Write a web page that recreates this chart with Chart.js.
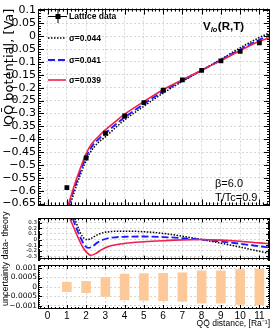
<!DOCTYPE html>
<html><head><meta charset="utf-8">
<script src="https://cdn.jsdelivr.net/npm/chart.js@4/dist/chart.umd.min.js"></script>
<style>
html,body{margin:0;padding:0;background:#fff;width:276px;height:329px;overflow:hidden}
#wrap{position:relative;width:276px;height:329px}
canvas{position:absolute;left:0}
</style></head>
<body><div id="wrap">
<canvas id="c1" width="276" height="214" style="top:0"></canvas>
<canvas id="c2" width="276" height="50" style="top:214px"></canvas>
<canvas id="c3" width="276" height="129" style="top:200px"></canvas>
</div>
<script>
// ---------------- data ----------------
const rLattice = [1, 2, 3, 4, 5, 6, 7, 8, 9, 10, 11];
const vLattice = [-0.588, -0.473, -0.377, -0.310, -0.258, -0.210, -0.170, -0.133, -0.096, -0.059, -0.026];
const uncertainty = [0.00025, 0.0003, 0.0005, 0.00068, 0.0007, 0.00072, 0.00075, 0.00085, 0.00085, 0.00092, 0.00095];

const seriesLabels = ['Lattice data', '\u03c3=0.044', '\u03c3=0.041', '\u03c3=0.039'];

const rBlack = [1.15, 1.3, 1.5, 1.7, 1.9, 2.0, 2.2, 2.4, 2.7, 3, 3.5, 4, 5, 6, 7, 8, 9, 10, 11, 11.55];
const vBlack = [-0.657, -0.625, -0.58, -0.538, -0.5, -0.482, -0.453, -0.432, -0.408, -0.391, -0.357, -0.325, -0.272, -0.221, -0.176, -0.133, -0.0895, -0.0455, -0.005, 0.014];
const rBlue = [1.1, 1.3, 1.5, 1.7, 1.9, 2.0, 2.2, 2.4, 2.7, 3, 3.5, 4, 5, 6, 7, 8, 9, 10, 11, 11.55];
const vBlue = [-0.657, -0.61, -0.566, -0.525, -0.487, -0.469, -0.44, -0.418, -0.396, -0.377, -0.345, -0.315, -0.2635, -0.2145, -0.1725, -0.133, -0.0925, -0.0515, -0.014, 0.004];
const rRed = [1.07, 1.3, 1.5, 1.7, 1.9, 2.0, 2.2, 2.4, 2.7, 3, 3.5, 4, 5, 6, 7, 8, 9, 10, 11, 11.55];
const vRed = [-0.657, -0.6, -0.555, -0.513, -0.474, -0.456, -0.428, -0.408, -0.385, -0.364, -0.333, -0.303, -0.254, -0.208, -0.1695, -0.132, -0.095, -0.056, -0.02, -0.005];

const rBlackDiff = [1.4, 1.6, 1.8, 2.0, 2.2, 2.5, 2.8, 3.2, 4, 5, 6, 7, 8, 9, 10, 11, 11.55];
const dBlack = [0.38, 0.2, 0.06, 0.0, 0.01, 0.07, 0.115, 0.14, 0.15, 0.14, 0.11, 0.06, 0.0, -0.065, -0.135, -0.21, -0.25];
const rBlueDiff = [1.3, 1.5, 1.7, 1.9, 2.1, 2.3, 2.6, 3.0, 3.5, 4, 5, 6, 7, 8, 9, 10, 11, 11.55];
const dBlue = [0.38, 0.2, 0.04, -0.09, -0.15, -0.13, -0.05, 0.01, 0.04, 0.05, 0.055, 0.045, 0.025, 0.0, -0.035, -0.075, -0.12, -0.145];
const rRedDiff = [1.15, 1.4, 1.6, 1.8, 2.0, 2.25, 2.5, 2.8, 3.2, 4, 5, 6, 7, 8, 9, 10, 11, 11.55];
const dRed = [0.38, 0.18, 0.02, -0.12, -0.22, -0.28, -0.25, -0.18, -0.12, -0.07, -0.04, -0.02, -0.005, 0.0, -0.01, -0.03, -0.06, -0.075];

// ---------------- styling ----------------
const FAM = "'Liberation Sans', Arial, sans-serif";
const DEJ = "'DejaVu Sans', sans-serif";
const C_BLACK = '#000000', C_BLUE = '#1a1aff', C_RED = '#f0204a', C_BAR = '#fec998';
const GRID = '#d6d6d6';
const X_MIN = -0.5, X_MAX = 11.55;

Chart.defaults.font.family = FAM;
Chart.defaults.color = '#000';
Chart.defaults.animation = false;
Chart.defaults.plugins.legend.display = false;
Chart.defaults.plugins.tooltip.enabled = false;

const pts = (xs, ys) => xs.map((x, i) => ({x, y: ys[i]}));
const fmt = (v, minus) => { const s = String(+v.toFixed(6)); return minus ? s.replace('-', '\u2212') : s; };

const rootFrame = {
  id: 'rootFrame',
  afterDraw(chart, args, o) {
    const {ctx, chartArea: a, scales: {x, y}} = chart;
    ctx.save();
    ctx.strokeStyle = '#000'; ctx.lineWidth = 1; ctx.setLineDash([]);
    ctx.beginPath();
    const mk = (scale, step, len, horiz) => {
      const k0 = Math.ceil(scale.min / step - 1e-9), k1 = Math.floor(scale.max / step + 1e-9);
      for (let k = k0; k <= k1; k++) {
        const p = Math.round(scale.getPixelForValue(k * step)) + 0.5;
        if (horiz) {
          ctx.moveTo(p, a.bottom); ctx.lineTo(p, a.bottom - len);
          ctx.moveTo(p, a.top); ctx.lineTo(p, a.top + len);
        } else {
          ctx.moveTo(a.left, p); ctx.lineTo(a.left + len, p);
          ctx.moveTo(a.right, p); ctx.lineTo(a.right - len, p);
        }
      }
    };
    mk(x, o.xMinor, o.xMinorLen, true);
    mk(x, o.xMajor, o.xMajorLen, true);
    mk(y, o.yMinor, o.yMinorLen, false);
    mk(y, o.yMajor, o.yMajorLen, false);
    ctx.stroke();
    ctx.strokeRect(Math.round(a.left) + 0.5, Math.round(a.top) + 0.5,
                   Math.round(a.right - a.left) - 1, Math.round(a.bottom - a.top) - 1);
    ctx.restore();
  }
};

const rootLegend = {
  id: 'rootLegend',
  afterDraw(chart, args, o) {
    const ctx = chart.ctx, ds = chart.data.datasets;
    ctx.save();
    ctx.font = "bold 8.5px " + FAM;
    ctx.textBaseline = 'middle'; ctx.textAlign = 'left'; ctx.fillStyle = '#000';
    o.rows.forEach(row => {
      const d = ds[row.index];
      if (row.marker) {
        ctx.strokeStyle = '#000'; ctx.lineWidth = 1; ctx.setLineDash([]);
        ctx.beginPath();
        ctx.moveTo(o.x0, row.y + 0.5); ctx.lineTo(o.x1, row.y + 0.5);
        const cx = (o.x0 + o.x1) / 2;
        ctx.moveTo(cx + 0.5, row.y - 6); ctx.lineTo(cx + 0.5, row.y + 7);
        ctx.stroke();
        ctx.fillRect(cx - 2, row.y - 2, 5, 5);
      } else {
        ctx.strokeStyle = d.borderColor; ctx.lineWidth = d.borderWidth;
        ctx.setLineDash(d.borderDash || []);
        ctx.beginPath(); ctx.moveTo(o.x0, row.y); ctx.lineTo(o.x1 - 1, row.y); ctx.stroke();
      }
      ctx.fillText(d.label, o.textX, row.y + 0.5);
    });
    // annotations
    ctx.setLineDash([]);
    ctx.textBaseline = 'alphabetic';
    let x = 203;
    ctx.font = "bold 11.5px " + FAM; ctx.fillText('V', x, 30); x += ctx.measureText('V').width;
    ctx.font = "italic bold 7.5px " + FAM; ctx.fillText('lo', x, 32); x += ctx.measureText('lo').width + 0.5;
    ctx.font = "bold 11.5px " + FAM; ctx.fillText('(R,T)', x, 30);
    ctx.font = "11px " + FAM;
    ctx.fillText('\u03b2=6.0', 215, 187);
    ctx.fillText('T/Tc=0.9', 215, 200.5);
    ctx.restore();
  }
};

const sharedTitle = {
  id: 'sharedTitle',
  afterDraw(chart) {
    const ctx = chart.ctx;
    ctx.save();
    ctx.font = "9px " + FAM; ctx.fillStyle = '#000';
    ctx.translate(6, 106); ctx.rotate(-Math.PI / 2);
    ctx.textAlign = 'left'; ctx.textBaseline = 'middle';
    ctx.fillText('uncertainty data- theory', 0, 0);
    ctx.restore();
  }
};

const xHidden = {
  type: 'linear', min: X_MIN, max: X_MAX,
  ticks: {display: false, stepSize: 1, includeBounds: false},
  grid: {color: GRID, drawTicks: false, lineWidth: 1},
  border: {display: false, dash: [2, 2]},
  afterFit: s => { s.height = 0; }
};

// ---------------- main panel ----------------
new Chart(document.getElementById('c1'), {
  type: 'scatter',
  data: {datasets: [
    {label: seriesLabels[0], data: pts(rLattice, vLattice), pointStyle: 'rect', pointRadius: 3.4,
     pointBackgroundColor: '#000', pointBorderWidth: 0, showLine: false},
    {label: seriesLabels[3], data: pts(rRed, vRed), showLine: true, borderColor: C_RED, borderWidth: 1.6,
     pointRadius: 0, cubicInterpolationMode: 'monotone'},
    {label: seriesLabels[2], data: pts(rBlue, vBlue), showLine: true, borderColor: C_BLUE, borderWidth: 1.8,
     borderDash: [7, 3], pointRadius: 0, cubicInterpolationMode: 'monotone'},
    {label: seriesLabels[1], data: pts(rBlack, vBlack), showLine: true, borderColor: C_BLACK, borderWidth: 1.5,
     borderDash: [1.5, 1.5], pointRadius: 0, cubicInterpolationMode: 'monotone'}
  ]},
  options: {
    responsive: false,
    layout: {padding: {top: 4, bottom: 3, left: 0, right: 6}, autoPadding: false},
    scales: {
      x: xHidden,
      y: {
        min: -0.657, max: 0.107,
        ticks: {stepSize: 0.05, includeBounds: false, autoSkip: false, padding: 2,
                font: {family: DEJ, size: 11}, callback: v => fmt(v, true)},
        grid: {color: GRID, drawTicks: false},
        border: {display: false, dash: [2, 2]},
        title: {display: true, text: 'QQ\u0304 potential, [Va]', align: 'end',
                font: {family: DEJ, size: 13}, padding: {top: 1.5, bottom: 0}},
        afterFit: s => { s.width = 38; }
      }
    },
    plugins: {
      rootFrame: {xMajor: 1, xMinor: 0.2, xMajorLen: 6, xMinorLen: 3, yMajor: 0.05, yMinor: 0.01, yMajorLen: 6, yMinorLen: 3},
      rootLegend: {x0: 48, x1: 67, textX: 69, rows: [
        {index: 0, y: 16, marker: true}, {index: 3, y: 38}, {index: 2, y: 60}, {index: 1, y: 80}
      ]}
    }
  },
  plugins: [rootFrame, rootLegend]
});

// ---------------- data - theory panel ----------------
new Chart(document.getElementById('c2'), {
  type: 'scatter',
  data: {datasets: [
    {label: seriesLabels[3], data: pts(rRedDiff, dRed), showLine: true, borderColor: C_RED, borderWidth: 1.6,
     pointRadius: 0, cubicInterpolationMode: 'monotone'},
    {label: seriesLabels[2], data: pts(rBlueDiff, dBlue), showLine: true, borderColor: C_BLUE, borderWidth: 1.8,
     borderDash: [7, 3], pointRadius: 0, cubicInterpolationMode: 'monotone'},
    {label: seriesLabels[1], data: pts(rBlackDiff, dBlack), showLine: true, borderColor: C_BLACK, borderWidth: 1.5,
     borderDash: [1.5, 1.5], pointRadius: 0, cubicInterpolationMode: 'monotone'}
  ]},
  options: {
    responsive: false,
    layout: {padding: {top: 2, bottom: 2, left: 0, right: 6}, autoPadding: false},
    scales: {
      x: xHidden,
      y: {
        min: -0.36, max: 0.38,
        ticks: {stepSize: 0.1, includeBounds: false, autoSkip: false, padding: 1,
                font: {family: DEJ, size: 5.5}, callback: v => fmt(v, false)},
        grid: {color: GRID, drawTicks: false},
        border: {display: false, dash: [2, 2]},
        afterFit: s => { s.width = 38; }
      }
    },
    plugins: {
      rootFrame: {xMajor: 1, xMinor: 0.2, xMajorLen: 4, xMinorLen: 2, yMajor: 0.1, yMinor: 0.02, yMajorLen: 4, yMinorLen: 2}
    }
  },
  plugins: [rootFrame]
});

// ---------------- uncertainty panel ----------------
new Chart(document.getElementById('c3'), {
  type: 'bar',
  data: {datasets: [
    {label: 'uncertainty', data: rLattice.map((r, i) => ({x: r, y: [-uncertainty[i], uncertainty[i]]})),
     backgroundColor: C_BAR, borderWidth: 0, barThickness: 9}
  ]},
  options: {
    responsive: false,
    layout: {padding: {top: 65, bottom: 0, left: 0, right: 6}, autoPadding: false},
    scales: {
      x: {
        type: 'linear', min: X_MIN, max: X_MAX, offset: false,
        ticks: {stepSize: 1, includeBounds: false, autoSkip: false, maxRotation: 0, padding: 1,
                font: {size: 10}, callback: v => fmt(v, false)},
        grid: {color: GRID, drawTicks: false, offset: false},
        border: {display: false, dash: [2, 2]},
        title: {display: true, text: 'QQ\u0304 distance, [Ra\u207b\u00b9]', align: 'end',
                font: {size: 8.5}, padding: {top: 0, bottom: 0}},
        afterFit: s => { s.height = 20; }
      },
      y: {
        min: -0.00116, max: 0.00116,
        ticks: {stepSize: 0.0005, includeBounds: false, autoSkip: false, padding: 1,
                font: {family: DEJ, size: 7.5}, callback: v => fmt(v, true)},
        grid: {color: GRID, drawTicks: false},
        border: {display: false, dash: [2, 2]},
        afterFit: s => { s.width = 38; }
      }
    },
    plugins: {
      rootFrame: {xMajor: 1, xMinor: 0.2, xMajorLen: 4, xMinorLen: 2, yMajor: 0.0005, yMinor: 0.0001, yMajorLen: 4, yMinorLen: 2}
    }
  },
  plugins: [rootFrame, sharedTitle]
});
</script>
</body></html>
